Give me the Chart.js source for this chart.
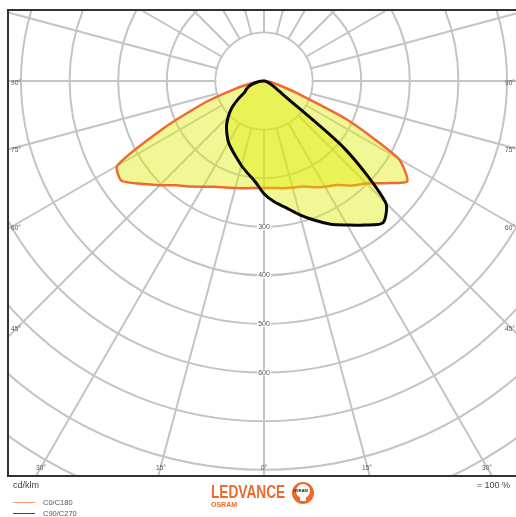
<!DOCTYPE html>
<html>
<head>
<meta charset="utf-8">
<script src="https://cdn.jsdelivr.net/npm/chart.js@4.4.1/dist/chart.umd.min.js"></script>
<style>
body { margin: 0; width: 516px; height: 517px; overflow: hidden; position: relative; background: #fff; font-family: Arial, "Liberation Sans", sans-serif; }
#frame { position: absolute; left: 7px; top: 9px; width: 520px; height: 464px; border: 2px solid #333; border-right: none; overflow: hidden; }
#frame canvas { position: absolute; left: -231px; top: -416px; }
.lab { position: absolute; font-size: 6.5px; color: #555; transform: translate(-50%, -50%); white-space: nowrap; }
.foot { position: absolute; font-size: 9px; color: #444; }
.leg { position: absolute; font-size: 7.5px; color: #555; left: 43px; transform: translateY(-50%); }
.legline { position: absolute; left: 13px; width: 22px; height: 1px; }
#ledv { position: absolute; left: 211px; top: 482px; font-size: 18px; font-weight: bold; color: #ec6a2c; transform: scaleX(0.76); transform-origin: left top; }
#osr { position: absolute; left: 211px; top: 501px; font-size: 7px; font-weight: bold; color: #ec6a2c; }
#bulb { position: absolute; left: 292px; top: 482px; width: 22px; height: 22px; border-radius: 50%; background: #ec6a2c; }
#bulb .in { position: absolute; left: 4px; top: 2px; width: 14px; height: 14px; border-radius: 50%; background: #fff; }
#bulb .stem { position: absolute; left: 8px; top: 14px; width: 6px; height: 5px; background: #fff; }
#bulb .txt { position: absolute; left: 1px; top: 6px; font-size: 4px; font-weight: bold; color: #222; }
</style>
</head>
<body>
<div id="frame"><canvas id="polar" width="972" height="972"></canvas></div>
<div id="labels"></div>
<div class="foot" style="left:13px; top:480px;">cd/klm</div>
<div class="foot" style="right:6px; top:480px;">= 100 %</div>
<div class="legline" style="top:502px; background:#f29a72;"></div>
<div class="leg" style="top:502px;">C0/C180</div>
<div class="legline" style="top:513px; background:#444;"></div>
<div class="leg" style="top:513px;">C90/C270</div>
<div id="ledv">LEDVANCE</div>
<div id="osr">OSRAM</div>
<div id="bulb"><div class="in"></div><div class="stem"></div><div class="txt">OSRAM</div></div>
<script>
// gamma angles in degrees, negative = left half of the diagram
const gammaDeg = [-90, -85, -80, -75, -70, -65, -60, -55, -50, -45, -40, -35, -30, -25, -20, -15, -10, -5,
  0, 5, 10, 15, 20, 25, 30, 35, 40, 45, 50, 55, 60, 65, 70, 75, 80, 85, 90];

// cd/klm
const c0c180 = [0, 10, 24, 60, 128, 224, 349, 358, 329, 303, 280, 265, 251, 240, 233, 228, 224, 221,
  220, 221, 224, 227, 231, 241, 251, 261, 281, 298, 327, 360, 320, 190, 70, 30, 15, 5, 0];
const c90c270 = [0, 8, 15, 25, 33, 40, 46, 65, 87, 104, 120, 133, 146, 156, 167, 180, 193, 208,
  232, 250, 265, 285, 305, 325, 342, 362, 381, 354, 218, 45, 25, 15, 10, 5, 3, 0, 0];

const ringLabels = [300, 400, 500, 600];
const sideLabels = ['90°', '75°', '60°', '45°'];
const bottomLabels = ['30°', '15°', '0°', '15°', '30°'];

const STEP = 5;
const N = 360 / STEP;

// put a gamma series onto the full 360° radar index (index 0 points down, clockwise)
function toRadar(vals) {
  const out = new Array(N).fill(0);
  gammaDeg.forEach((g, k) => {
    const idx = ((-g / STEP) % N + N) % N;
    out[idx] = vals[k];
  });
  return out;
}

const radarLabels = [];
for (let i = 0; i < N; i++) radarLabels.push(String(i * STEP));

const gridColor = '#c4c4c4';

const innerDisc = {
  id: 'innerDisc',
  beforeDatasetsDraw(chart) {
    const s = chart.scales.r;
    const ctx = chart.ctx;
    ctx.save();
    ctx.fillStyle = '#fff';
    ctx.beginPath();
    ctx.arc(s.xCenter, s.yCenter, s.getDistanceFromCenterForValue(100) - 1, 0, Math.PI * 2);
    ctx.fill();
    ctx.restore();
  },
  afterDatasetsDraw(chart) {
    const s = chart.scales.r;
    const ctx = chart.ctx;
    ctx.save();
    ctx.font = '7px Arial, "Liberation Sans", sans-serif';
    ctx.textAlign = 'center';
    ctx.textBaseline = 'middle';
    ringLabels.forEach(v => {
      const y = s.yCenter + s.getDistanceFromCenterForValue(v);
      ctx.fillStyle = '#fff';
      ctx.fillRect(s.xCenter - 7, y - 3, 14, 6);
      ctx.fillStyle = '#555';
      ctx.fillText(String(v), s.xCenter, y);
    });
    ctx.restore();
  }
};

new Chart(document.getElementById('polar'), {
  type: 'radar',
  data: {
    labels: radarLabels,
    datasets: [{
      label: 'C90/C270',
      data: toRadar(c90c270),
      borderColor: '#080808',
      borderWidth: 3,
      backgroundColor: 'rgba(222, 235, 0, 0.42)',
      fill: true,
      pointRadius: 0,
      tension: 0.25,
      borderJoinStyle: 'round'
    }, {
      label: 'C0/C180',
      data: toRadar(c0c180),
      borderColor: '#ef6a2e',
      borderWidth: 2.5,
      backgroundColor: 'rgba(222, 235, 0, 0.42)',
      fill: true,
      pointRadius: 0,
      tension: 0.2,
      borderJoinStyle: 'round'
    }]
  },
  options: {
    responsive: false,
    animation: false,
    layout: { padding: 0 },
    plugins: { legend: { display: false }, tooltip: { enabled: false } },
    scales: {
      r: {
        min: 0,
        max: 1000,
        startAngle: 180,
        ticks: { display: false, stepSize: 100 },
        pointLabels: { display: false },
        grid: { circular: true, color: gridColor, lineWidth: 2 },
        angleLines: {
          color: gridColor,
          lineWidth: ctx => (ctx.index % 3 === 0 ? 2 : 0)
        }
      }
    }
  },
  plugins: [innerDisc]
});

// angle labels along the frame
const labelsBox = document.getElementById('labels');
function addLabel(t, x, y) {
  const d = document.createElement('div');
  d.className = 'lab';
  d.textContent = t;
  d.style.left = x + 'px';
  d.style.top = y + 'px';
  labelsBox.appendChild(d);
}
const sideY = [82, 149, 227, 328];
sideLabels.forEach((t, i) => { addLabel(t, 16, sideY[i]); addLabel(t, 510, sideY[i]); });
const bottomX = [41, 161, 264, 367, 487];
bottomLabels.forEach((t, i) => addLabel(t, bottomX[i], 467));
</script>
</body>
</html>
